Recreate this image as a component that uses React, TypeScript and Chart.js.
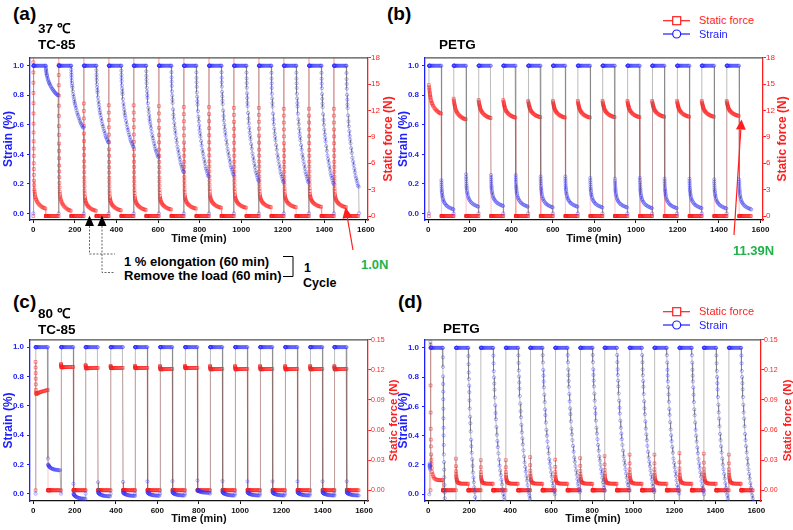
import React, { useEffect, useRef } from "react";
import { Chart, registerables } from "chart.js";
Chart.register(...registerables);

const NFONT = "'Liberation Sans Narrow', 'Arial Narrow', 'Liberation Sans', Arial, sans-serif";
const TFONT = "'Liberation Sans', Arial, sans-serif";
const BLUE = "#1e1eff";
const RED = "#ff1e1e";
const GREEN = "#1fb24a";

// ---------- tick labels ----------
const TIME_TICKS = [0, 200, 400, 600, 800, 1000, 1200, 1400, 1600];
const STRAIN_TICKS = [0, 0.2, 0.4, 0.6, 0.8, 1.0];
const FORCE_TICKS_37 = [0, 3, 6, 9, 12, 15, 18];
const FORCE_TICKS_80 = [0, 0.03, 0.06, 0.09, 0.12, 0.15];

// ---------- shared sampling times (min after load / unload) ----------
const HOLD_T = [0, 0.4, 0.8, 1.2, 1.6, 2, 2.5, 3, 4, 5, 7, 9, 12, 15, 18, 21, 25, 29, 33, 37, 41, 45, 49, 53, 57, 59.5];
const ZERO_T = [60.3, 60.7, 61, 61.5, 62, 62.5, 63, 64, 65, 66, 68, 70, 72, 75, 78, 81, 85, 89, 93, 97, 101, 105, 109, 113, 117];

// ---------- (a) 37 °C TC-85 ----------
const A_START = [0, 122, 243, 363, 483, 604, 724, 845, 965, 1085, 1205, 1326, 1446];
const A_STRAIN_END = [0.8, 0.58, 0.48, 0.45, 0.38, 0.28, 0.25, 0.26, 0.22, 0.21, 0.21, 0.2, 0.18];
const A_RECOVERY_T = [0, 0.5, 1, 1.5, 2, 3, 4, 5, 6, 8, 10, 12, 14, 16, 18, 20, 23, 26, 29, 32, 35, 38, 41, 44, 47, 50, 53, 56, 59];
const A_RECOVERY_FRAC = [0, 0.06, 0.11, 0.15, 0.19, 0.24, 0.28, 0.32, 0.35, 0.41, 0.46, 0.5, 0.54, 0.58, 0.61, 0.64, 0.68, 0.72, 0.76, 0.79, 0.82, 0.85, 0.88, 0.91, 0.93, 0.95, 0.97, 0.99, 1];
const A_FORCE_TOP = 19;
const A_FORCE_PEAK = [17.5, 17.2, 12.8, 12.6, 12.6, 12.5, 12.4, 12.4, 12.3, 12.3, 12.2, 12.2, 12.2];
const A_FORCE_END = [0.85, 0.6, 0.6, 0.65, 0.7, 0.75, 0.85, 0.95, 0.95, 1.0, 1.0, 1.05, 1.0];
const A_RELAX_T = [0, 0.2, 0.4, 0.6, 0.8, 1, 1.2, 1.4, 1.6, 1.8, 2, 2.3, 2.6, 3, 3.5, 4, 5, 6, 7, 8, 10, 12, 14, 17, 20, 24, 28, 33, 38, 43, 48, 53, 58];
const A_RELAX_REL = [1, 0.93, 0.86, 0.79, 0.72, 0.65, 0.58, 0.52, 0.46, 0.41, 0.36, 0.31, 0.27, 0.23, 0.19, 0.16, 0.13, 0.115, 0.1, 0.09, 0.078, 0.068, 0.06, 0.05, 0.043, 0.035, 0.028, 0.021, 0.015, 0.01, 0.006, 0.003, 0];

// ---------- (b) 37 °C PETG ----------
const B_START = [3, 122, 242, 361, 481, 600, 720, 839, 959, 1078, 1198, 1317, 1437];
const B_FORCE_PEAK = [14.9, 13.35, 13.2, 13.2, 13.1, 13.1, 13.1, 13.1, 13.1, 13.1, 13.1, 13.1, 13.1];
const B_FORCE_END = [11.65, 11.0, 11.15, 11.2, 11.25, 11.2, 11.2, 11.25, 11.25, 11.3, 11.3, 11.3, 11.39];
const B_RELAX_T = [0, 1, 2, 3, 4, 5, 6, 7, 8, 10, 12, 14, 16, 19, 22, 26, 30, 34, 38, 42, 46, 50, 54, 58];
const B_RELAX_REL = [1, 0.92, 0.85, 0.79, 0.73, 0.68, 0.63, 0.58, 0.54, 0.47, 0.42, 0.37, 0.34, 0.29, 0.25, 0.2, 0.16, 0.13, 0.1, 0.075, 0.05, 0.03, 0.015, 0];
const B_STRAIN_PEAK = [0.225, 0.265, 0.26, 0.26, 0.25, 0.25, 0.24, 0.235, 0.24, 0.235, 0.235, 0.23, 0.23];
const B_STRAIN_END = [0.027, 0.045, 0.05, 0.045, 0.04, 0.045, 0.04, 0.04, 0.035, 0.035, 0.035, 0.033, 0.027];
const B_RECOVERY_T = [0, 0.3, 0.6, 1, 1.5, 2, 2.5, 3, 4, 5, 6, 8, 10, 12, 15, 18, 22, 26, 30, 35, 40, 45, 50, 55, 58];
const B_RECOVERY_REL = [1, 0.92, 0.85, 0.78, 0.71, 0.65, 0.6, 0.56, 0.5, 0.45, 0.41, 0.35, 0.3, 0.26, 0.22, 0.19, 0.15, 0.12, 0.1, 0.075, 0.055, 0.04, 0.025, 0.01, 0];

// ---------- (c) 80 °C TC-85 ----------
const C_START = [11, 134, 253, 374, 492, 613, 734, 855, 976, 1097, 1218, 1339, 1456];
const C_UNLOAD_PEAK = [0.24, 0.068, 0.078, 0.08, 0.084, 0.086, 0.09, 0.086, 0.084, 0.084, 0.084, 0.084, 0.084];
const C_RECOVERY_START = [0.2, 0.0, 0.01, 0.01, 0.01, 0.01, 0.025, 0.012, 0.01, 0.01, 0.01, 0.01, 0.01];
const C_RECOVERY_END = [0.16, -0.035, -0.018, -0.015, -0.014, -0.012, 0.006, -0.012, -0.012, -0.012, -0.012, -0.012, -0.012];
const C_RECOVERY_T = [1, 1.5, 2, 3, 4, 5, 6, 8, 10, 12, 15, 18, 21, 24, 27, 30, 34, 38, 42, 46, 50, 54, 58];
const C_RECOVERY_FRAC = [0, 0.08, 0.15, 0.21, 0.27, 0.32, 0.37, 0.45, 0.52, 0.58, 0.65, 0.71, 0.76, 0.8, 0.84, 0.87, 0.9, 0.93, 0.95, 0.97, 0.98, 0.99, 1];
const C_FORCE_PEAK = [0.128, 0.126, 0.125, 0.124, 0.124, 0.124, 0.124, 0.124, 0.124, 0.124, 0.124, 0.124, 0.124];
const C_FORCE_END = [0.1, 0.123, 0.122, 0.122, 0.122, 0.121, 0.122, 0.121, 0.121, 0.121, 0.121, 0.121, 0.121];
const C_RELAX_T = [0, 0.3, 0.6, 0.9, 1.2, 1.5, 2, 3, 4, 6, 8, 11, 14, 18, 22, 26, 30, 35, 40, 45, 50, 55, 59];
const C_RELAX_REL = [1, 0.8, 0.6, 0.4, 0.2, 0, -0.1, -0.14, -0.14, -0.13, -0.12, -0.11, -0.1, -0.09, -0.08, -0.07, -0.06, -0.05, -0.04, -0.03, -0.02, -0.01, 0];

// ---------- (d) 80 °C PETG ----------
const D_START = [11, 135, 256, 378, 497, 619, 741, 860, 982, 1103, 1225, 1344, 1466];
const D_PRE_T = [5, 6, 6.5, 7, 7.5, 8, 8.5, 9, 10.5];
const D_PRE_STRAIN = [0, 0.19, 0.2, 0.21, 0.18, 0.2, 0.19, 0.17, 1.04];
const D_RESET_STRAIN = -0.1;
const D_STRAIN_END = [-0.3, -0.12, -0.06, -0.03, 0.0, 0.015, 0.025, 0.025, 0.015, 0.005, 0.0, -0.05, -0.05];
const D_DECAY_SPAN = [16, 42, 58, 58, 60, 60, 60, 60, 60, 60, 60, 60, 60];
const D_DECAY_U = [0, 0.02, 0.04, 0.06, 0.08, 0.1, 0.12, 0.15, 0.18, 0.21, 0.24, 0.28, 0.32, 0.36, 0.4, 0.45, 0.5, 0.55, 0.6, 0.65, 0.7, 0.75, 0.8, 0.85, 0.9, 0.95, 1];
const D_DECAY_FRAC = [0, 0.05, 0.1, 0.15, 0.19, 0.23, 0.27, 0.32, 0.37, 0.42, 0.46, 0.51, 0.56, 0.6, 0.64, 0.68, 0.72, 0.76, 0.79, 0.82, 0.85, 0.88, 0.91, 0.94, 0.96, 0.98, 1];
const D_FORCE_PEAK = [0.145, 0.0315, 0.03, 0.03, 0.033, 0.0305, 0.032, 0.034, 0.0355, 0.0355, 0.037, 0.0365, 0.0355];
const D_FORCE_END = [0.01, 0.0065, 0.0065, 0.0065, 0.0065, 0.0065, 0.0065, 0.0065, 0.0065, 0.0065, 0.0065, 0.0065, 0.0065];
const D_RELAX_T = [0, 0.3, 0.6, 1, 1.5, 2, 3, 4, 5, 6, 8, 10, 13, 16, 20, 25, 30, 35, 40, 45, 50, 55, 59];
const D_RELAX_REL = [1, 0.7, 0.5, 0.38, 0.3, 0.25, 0.19, 0.15, 0.12, 0.09, 0.06, 0.045, 0.03, 0.02, 0.012, 0.007, 0.004, 0.002, 0.001, 0, 0, 0, 0];

type Pt = { x: number; y: number };

function buildA() {
  const strain: Pt[] = [];
  const force: Pt[] = [];
  A_START.forEach((T, k) => {
    strain.push({ x: T, y: 0 });
    HOLD_T.forEach((t) => strain.push({ x: T + t, y: 1 }));
    A_RECOVERY_T.forEach((t, i) =>
      strain.push({ x: T + 60 + t, y: 1 - (1 - A_STRAIN_END[k]) * A_RECOVERY_FRAC[i] })
    );
    force.push({ x: T, y: 0 });
    force.push({ x: T, y: A_FORCE_TOP });
    A_RELAX_T.forEach((t, i) =>
      force.push({ x: T + t, y: A_FORCE_END[k] + (A_FORCE_PEAK[k] - A_FORCE_END[k]) * A_RELAX_REL[i] })
    );
    ZERO_T.forEach((t) => force.push({ x: T + t, y: 0 }));
  });
  strain.push({ x: A_START[A_START.length - 1] + 121, y: 0 });
  return { strain, force };
}

function buildB() {
  const strain: Pt[] = [];
  const force: Pt[] = [];
  B_START.forEach((T, k) => {
    strain.push({ x: T, y: 0 });
    HOLD_T.forEach((t) => strain.push({ x: T + t, y: 1 }));
    B_RECOVERY_T.forEach((t, i) =>
      strain.push({ x: T + 60 + t, y: B_STRAIN_END[k] + (B_STRAIN_PEAK[k] - B_STRAIN_END[k]) * B_RECOVERY_REL[i] })
    );
    force.push({ x: T, y: 0 });
    B_RELAX_T.forEach((t, i) =>
      force.push({ x: T + t, y: B_FORCE_END[k] + (B_FORCE_PEAK[k] - B_FORCE_END[k]) * B_RELAX_REL[i] })
    );
    ZERO_T.forEach((t) => force.push({ x: T + t, y: 0 }));
  });
  return { strain, force };
}

function buildC() {
  const strain: Pt[] = [];
  const force: Pt[] = [];
  C_START.forEach((T, k) => {
    strain.push({ x: T, y: 0 });
    HOLD_T.forEach((t) => strain.push({ x: T + t, y: 1 }));
    strain.push({ x: T + 60, y: C_UNLOAD_PEAK[k] });
    C_RECOVERY_T.forEach((t, i) =>
      strain.push({ x: T + 60 + t, y: C_RECOVERY_START[k] + (C_RECOVERY_END[k] - C_RECOVERY_START[k]) * C_RECOVERY_FRAC[i] })
    );
    force.push({ x: T, y: 0 });
    C_RELAX_T.forEach((t, i) =>
      force.push({ x: T + t, y: C_FORCE_END[k] + (C_FORCE_PEAK[k] - C_FORCE_END[k]) * C_RELAX_REL[i] })
    );
    ZERO_T.forEach((t) => force.push({ x: T + t, y: 0 }));
  });
  return { strain, force };
}

function buildD() {
  const strain: Pt[] = [];
  const force: Pt[] = [];
  D_PRE_T.forEach((t, i) => strain.push({ x: t, y: D_PRE_STRAIN[i] }));
  D_START.forEach((T, k) => {
    if (k > 0) strain.push({ x: T, y: D_RESET_STRAIN });
    HOLD_T.forEach((t) => strain.push({ x: T + t, y: 1 }));
    D_DECAY_U.forEach((u, i) =>
      strain.push({ x: T + 60 + D_DECAY_SPAN[k] * u, y: 1 - (1 - D_STRAIN_END[k]) * D_DECAY_FRAC[i] })
    );
    force.push({ x: T, y: 0 });
    D_RELAX_T.forEach((t, i) =>
      force.push({ x: T + t, y: D_FORCE_END[k] + (D_FORCE_PEAK[k] - D_FORCE_END[k]) * D_RELAX_REL[i] })
    );
    ZERO_T.forEach((t) => force.push({ x: T + t, y: 0 }));
  });
  return { strain, force };
}

const framePlugin = {
  id: "frame",
  afterDraw(chart: any) {
    const { ctx, chartArea } = chart;
    ctx.save();
    ctx.strokeStyle = "#505050";
    ctx.lineWidth = 1.3;
    ctx.beginPath();
    ctx.moveTo(chartArea.left, chartArea.top);
    ctx.lineTo(chartArea.right, chartArea.top);
    ctx.stroke();
    ctx.restore();
  },
};

const rightTitlePlugin = {
  id: "rightTitle",
  afterDraw(chart: any, _a: any, opts: any) {
    const { ctx, chartArea } = chart;
    ctx.save();
    ctx.translate(opts.x, (chartArea.top + chartArea.bottom) / 2);
    ctx.rotate(-Math.PI / 2);
    ctx.fillStyle = RED;
    ctx.font = `bold ${opts.size}px ${NFONT}`;
    ctx.textAlign = "center";
    ctx.textBaseline = "middle";
    ctx.fillText("Static force (N)", 0, 0);
    ctx.restore();
  },
};

interface Cfg {
  xMin: number; xMax: number; sMin: number; sMax: number; fMin: number; fMax: number;
  fTicks: number[]; fDigits: number; fSize: number; leftW: number; rightW: number; xH: number; padTop: number;
  rightTitleX: number; rightTitleSize: number; strain: Pt[]; force: Pt[];
}

function makeConfig(c: Cfg): any {
  const tickFont = { family: NFONT, size: 8, weight: "bold" };
  return {
    type: "line",
    data: {
      datasets: [
        {
          label: "Strain", data: c.strain, yAxisID: "y",
          borderColor: "rgba(100,100,100,0.55)", borderWidth: 0.8, tension: 0, fill: false,
          pointStyle: "circle", pointRadius: 1.6, pointBorderWidth: 0.7,
          pointBorderColor: "rgba(50,50,255,0.55)", pointBackgroundColor: "rgba(255,255,255,0)",
        },
        {
          label: "Static force", data: c.force, yAxisID: "y1",
          borderColor: "rgba(255,90,90,0.45)", borderWidth: 0.8, tension: 0, fill: false,
          pointStyle: "rect", pointRadius: 2.0, pointBorderWidth: 0.7,
          pointBorderColor: "rgba(255,30,30,0.7)", pointBackgroundColor: "rgba(255,255,255,0)",
        },
      ],
    },
    options: {
      animation: false, responsive: false, maintainAspectRatio: false, events: [],
      layout: { padding: { top: c.padTop, left: 0, right: 0, bottom: 0 } },
      plugins: { legend: { display: false }, tooltip: { enabled: false }, rightTitle: { x: c.rightTitleX, size: c.rightTitleSize } },
      scales: {
        x: {
          type: "linear", min: c.xMin, max: c.xMax,
          afterBuildTicks: (s: any) => { s.ticks = TIME_TICKS.map((v) => ({ value: v })); },
          afterFit: (s: any) => { s.height = c.xH; },
          ticks: { autoSkip: false, maxRotation: 0, padding: 2, color: "#111", font: tickFont, callback: (v: any) => String(v) },
          grid: { drawOnChartArea: false, drawTicks: true, tickLength: 3, color: "#111" },
          border: { display: true, color: "#111", width: 1.3 },
          title: { display: true, text: "Time (min)", color: "#111", font: { family: NFONT, size: 11, weight: "bold" }, padding: { top: 0, bottom: 4 } },
        },
        y: {
          type: "linear", position: "left", min: c.sMin, max: c.sMax,
          afterBuildTicks: (s: any) => { s.ticks = STRAIN_TICKS.map((v) => ({ value: v })); },
          afterFit: (s: any) => { s.width = c.leftW; },
          ticks: { autoSkip: false, padding: 3, color: BLUE, font: tickFont, callback: (v: any) => Number(v).toFixed(1) },
          grid: { drawOnChartArea: false, drawTicks: true, tickLength: 3, color: BLUE },
          border: { display: true, color: BLUE, width: 1.3 },
          title: { display: true, text: "Strain (%)", color: BLUE, font: { family: NFONT, size: 12, weight: "bold" }, padding: { top: 1, bottom: 0 } },
        },
        y1: {
          type: "linear", position: "right", min: c.fMin, max: c.fMax,
          afterBuildTicks: (s: any) => { s.ticks = c.fTicks.map((v) => ({ value: v })); },
          afterFit: (s: any) => { s.width = c.rightW; },
          ticks: { autoSkip: false, padding: 0, color: RED, font: { family: NFONT, size: c.fSize }, callback: (v: any) => Number(v).toFixed(c.fDigits) },
          grid: { drawOnChartArea: false, drawTicks: true, tickLength: 3, color: RED },
          border: { display: true, color: RED, width: 1.3 },
        },
      },
    },
    plugins: [framePlugin, rightTitlePlugin],
  };
}

function ChartBox(props: { left: number; top: number; width: number; height: number; cfg: Cfg }) {
  const ref = useRef<HTMLCanvasElement | null>(null);
  useEffect(() => {
    const chart = new Chart(ref.current as HTMLCanvasElement, makeConfig(props.cfg));
    return () => chart.destroy();
  }, []);
  return (
    <canvas
      ref={ref}
      width={props.width}
      height={props.height}
      style={{ position: "absolute", left: props.left, top: props.top, width: props.width, height: props.height }}
    />
  );
}

function Txt(p: { x: number; y: number; size: number; color?: string; weight?: string; children: any }) {
  return (
    <div
      style={{
        position: "absolute", left: p.x, top: p.y, fontSize: p.size, lineHeight: 1,
        fontWeight: (p.weight || "bold") as any, color: p.color || "#000", whiteSpace: "nowrap", fontFamily: TFONT,
      }}
    >
      {p.children}
    </div>
  );
}

function Legend(p: { y1: number; y2: number }) {
  return (
    <>
      <Txt x={699} y={p.y1 - 5.4} size={11} weight="normal" color={RED}>Static force</Txt>
      <Txt x={699} y={p.y2 - 5.4} size={11} weight="normal" color={BLUE}>Strain</Txt>
    </>
  );
}

export default function App() {
  const a = buildA();
  const b = buildB();
  const c = buildC();
  const d = buildD();
  const cfgA: Cfg = {
    xMin: -16, xMax: 1610, sMin: -0.045, sMax: 1.054, fMin: -0.45, fMax: 18, fTicks: FORCE_TICKS_37, fDigits: 0, fSize: 8,
    leftW: 30, rightW: 32, xH: 30, padTop: 7, rightTitleX: 389, rightTitleSize: 12, strain: a.strain, force: a.force,
  };
  const cfgB: Cfg = {
    xMin: -16, xMax: 1612, sMin: -0.045, sMax: 1.054, fMin: -0.45, fMax: 18, fTicks: FORCE_TICKS_37, fDigits: 0, fSize: 8,
    leftW: 30, rightW: 30, xH: 30, padTop: 7, rightTitleX: 388, rightTitleSize: 12, strain: b.strain, force: b.force,
  };
  const cfgC: Cfg = {
    xMin: -16, xMax: 1619, sMin: -0.05, sMax: 1.05, fMin: -0.0107, fMax: 0.15, fTicks: FORCE_TICKS_80, fDigits: 2, fSize: 7,
    leftW: 30, rightW: 32, xH: 29, padTop: 7, rightTitleX: 393.5, rightTitleSize: 11.5, strain: c.strain, force: c.force,
  };
  const cfgD: Cfg = {
    xMin: -16, xMax: 1623, sMin: -0.046, sMax: 1.055, fMin: -0.0107, fMax: 0.15, fTicks: FORCE_TICKS_80, fDigits: 2, fSize: 7,
    leftW: 30, rightW: 32, xH: 29, padTop: 7, rightTitleX: 392.5, rightTitleSize: 11.5, strain: d.strain, force: d.force,
  };

  return (
    <div style={{ position: "absolute", left: 0, top: 0, width: 793, height: 530, background: "#fff", overflow: "hidden" }}>
      <ChartBox left={0} top={50} width={400} height={200} cfg={cfgA} />
      <ChartBox left={395} top={50} width={398} height={200} cfg={cfgB} />
      <ChartBox left={0} top={332} width={400} height={198} cfg={cfgC} />
      <ChartBox left={395} top={332} width={398} height={198} cfg={cfgD} />

      <Txt x={13} y={4} size={19}>(a)</Txt>
      <Txt x={38} y={21.5} size={13.5}>37 ℃</Txt>
      <Txt x={38} y={37.5} size={13.5}>TC-85</Txt>

      <Txt x={387} y={4} size={19}>(b)</Txt>
      <Txt x={439} y={37.5} size={13.5}>PETG</Txt>
      <Legend y1={20.7} y2={34} />

      <Txt x={13} y={292} size={19}>(c)</Txt>
      <Txt x={38} y={307} size={13.5}>80 ℃</Txt>
      <Txt x={38} y={323} size={13.5}>TC-85</Txt>

      <Txt x={398} y={292} size={19}>(d)</Txt>
      <Txt x={443} y={321.5} size={13.5}>PETG</Txt>
      <Legend y1={311.7} y2={325} />

      <Txt x={124} y={255.3} size={13}>1 % elongation (60 min)</Txt>
      <Txt x={124} y={269.3} size={13}>Remove the load (60 min)</Txt>
      <Txt x={304} y={261.5} size={12.5}>1</Txt>
      <Txt x={303} y={276.5} size={12.5}>Cycle</Txt>
      <Txt x={361} y={258} size={13} color={GREEN}>1.0N</Txt>
      <Txt x={733} y={243.5} size={13} color={GREEN}>11.39N</Txt>

      <svg width={793} height={530} style={{ position: "absolute", left: 0, top: 0, pointerEvents: "none" }}>
        <polygon points="85,226 89.5,215.5 94,226" fill="#000" />
        <polygon points="97.5,226 102,215.5 106.5,226" fill="#000" />
        <path d="M89.5 226 V254 H115" fill="none" stroke="#555" strokeWidth={0.9} strokeDasharray="2,1.5" />
        <path d="M102 226 V272.5 H115" fill="none" stroke="#555" strokeWidth={0.9} strokeDasharray="2,1.5" />
        <polyline points="283,256.5 293,256.5 293,276.5 283,276.5" fill="none" stroke="#000" strokeWidth={1} />
        <line x1={353} y1={250} x2={347.4} y2={217.8} stroke={RED} strokeWidth={1.2} />
        <polygon points="345.5,207 352.3,216.9 342.5,218.7" fill={RED} />
        <line x1={734} y1={235} x2={740.8} y2={129.5} stroke={RED} strokeWidth={1.2} />
        <polygon points="741.5,119.5 745.8,129.8 735.9,129.2" fill={RED} />
        <line x1={663} y1={20.7} x2={690} y2={20.7} stroke={RED} strokeWidth={1.2} />
        <rect x={672.7} y={16.7} width={8} height={8} fill="#fff" stroke={RED} strokeWidth={1.2} />
        <line x1={663} y1={34} x2={690} y2={34} stroke={BLUE} strokeWidth={1.2} />
        <circle cx={676.7} cy={34} r={4} fill="#fff" stroke={BLUE} strokeWidth={1.2} />
        <line x1={663} y1={311.7} x2={690} y2={311.7} stroke={RED} strokeWidth={1.2} />
        <rect x={672.7} y={307.7} width={8} height={8} fill="#fff" stroke={RED} strokeWidth={1.2} />
        <line x1={663} y1={325} x2={690} y2={325} stroke={BLUE} strokeWidth={1.2} />
        <circle cx={676.7} cy={325} r={4} fill="#fff" stroke={BLUE} strokeWidth={1.2} />
      </svg>
    </div>
  );
}
